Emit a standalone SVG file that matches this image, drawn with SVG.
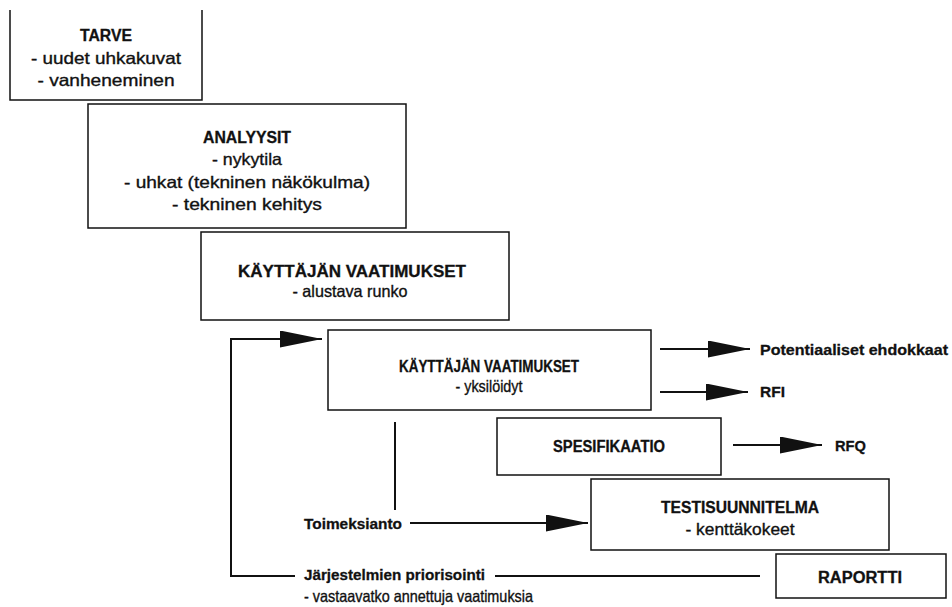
<svg xmlns="http://www.w3.org/2000/svg" width="952" height="607" viewBox="0 0 952 607">
<style>
text{font-family:"Liberation Sans",Arial,Helvetica,sans-serif;fill:#111;}
.t{font-size:16px;font-weight:bold;stroke:#111;stroke-width:0.3px;}
.s{font-size:16.5px;stroke:#111;stroke-width:0.35px;}
.l{font-size:15.5px;font-weight:bold;stroke:#111;stroke-width:0.3px;}
.box{fill:#fff;stroke:#111;stroke-width:1.5;}
.c{fill:none;stroke:#111;stroke-width:2;}
</style>
<defs>
<marker id="ah" markerUnits="userSpaceOnUse" markerWidth="44" markerHeight="18" refX="42" refY="8.5" orient="auto">
<path d="M0,0 L42,8.5 L0,17 z" fill="#111"/>
</marker>
</defs>
<rect width="952" height="607" fill="#fff"/>
<g id="tarve">
<path class="box" d="M10,10 V100 H202 V10" />
<text class="t" x="106" y="41" text-anchor="middle" textLength="52" lengthAdjust="spacingAndGlyphs">TARVE</text>
<text class="s" x="106" y="64" text-anchor="middle" textLength="150" lengthAdjust="spacingAndGlyphs">- uudet uhkakuvat</text>
<text class="s" x="106" y="86" text-anchor="middle" textLength="137" lengthAdjust="spacingAndGlyphs">- vanheneminen</text>
</g>
<g id="analyysit">
<rect class="box" x="88" y="104" width="318" height="124"/>
<text class="t" x="247" y="143" text-anchor="middle" textLength="88" lengthAdjust="spacingAndGlyphs">ANALYYSIT</text>
<text class="s" x="247" y="165" text-anchor="middle" textLength="70" lengthAdjust="spacingAndGlyphs">- nykytila</text>
<text class="s" x="247" y="188" text-anchor="middle" textLength="246" lengthAdjust="spacingAndGlyphs">- uhkat (tekninen näkökulma)</text>
<text class="s" x="247" y="210" text-anchor="middle" textLength="150" lengthAdjust="spacingAndGlyphs">- tekninen kehitys</text>
</g>
<g id="kv1">
<rect class="box" x="201" y="232" width="308" height="88"/>
<text class="t" x="352" y="277" text-anchor="middle" textLength="228" lengthAdjust="spacingAndGlyphs">KÄYTTÄJÄN VAATIMUKSET</text>
<text class="s" x="350" y="297" text-anchor="middle" textLength="115" lengthAdjust="spacingAndGlyphs">- alustava runko</text>
</g>
<g id="kv2">
<rect class="box" x="328" y="330" width="323" height="80"/>
<text class="t" x="489" y="372" text-anchor="middle" textLength="180" lengthAdjust="spacingAndGlyphs">KÄYTTÄJÄN VAATIMUKSET</text>
<text class="s" x="489" y="392" text-anchor="middle" textLength="67" lengthAdjust="spacingAndGlyphs">- yksilöidyt</text>
</g>
<g id="spesifikaatio">
<rect class="box" x="497" y="418" width="224" height="57"/>
<text class="t" x="609" y="452" text-anchor="middle" textLength="112" lengthAdjust="spacingAndGlyphs">SPESIFIKAATIO</text>
</g>
<g id="testisuunnitelma">
<rect class="box" x="591" y="479" width="298" height="71"/>
<text class="t" x="740" y="513" text-anchor="middle" textLength="158" lengthAdjust="spacingAndGlyphs">TESTISUUNNITELMA</text>
<text class="s" x="740" y="535" text-anchor="middle" textLength="109" lengthAdjust="spacingAndGlyphs">- kenttäkokeet</text>
</g>
<g id="raportti">
<rect class="box" x="776" y="554" width="170" height="44"/>
<text class="t" x="860" y="583" text-anchor="middle" textLength="84" lengthAdjust="spacingAndGlyphs">RAPORTTI</text>
</g>
<g id="labels">
<text class="l" x="760" y="355" textLength="188" lengthAdjust="spacingAndGlyphs">Potentiaaliset ehdokkaat</text>
<text class="l" x="760" y="397" textLength="25" lengthAdjust="spacingAndGlyphs">RFI</text>
<text class="l" x="835" y="451" textLength="31" lengthAdjust="spacingAndGlyphs">RFQ</text>
<text class="l" x="304" y="529" textLength="98" lengthAdjust="spacingAndGlyphs">Toimeksianto</text>
<text class="l" x="304" y="580" textLength="181" lengthAdjust="spacingAndGlyphs">Järjestelmien priorisointi</text>
<text class="s" x="304" y="602" textLength="229" lengthAdjust="spacingAndGlyphs">- vastaavatko annettuja vaatimuksia</text>
</g>
<g id="connectors">
<line class="c" x1="660" y1="349" x2="750" y2="349" marker-end="url(#ah)"/>
<line class="c" x1="660" y1="392" x2="748" y2="392" marker-end="url(#ah)"/>
<line class="c" x1="733" y1="445" x2="822" y2="445" marker-end="url(#ah)"/>
<line class="c" x1="395" y1="422" x2="395" y2="510"/>
<line class="c" x1="410" y1="523" x2="588" y2="523" marker-end="url(#ah)"/>
<line class="c" x1="495" y1="576" x2="760" y2="576"/>
<polyline class="c" points="295,576 231,576 231,339 322,339" marker-end="url(#ah)"/>
</g>
</svg>
